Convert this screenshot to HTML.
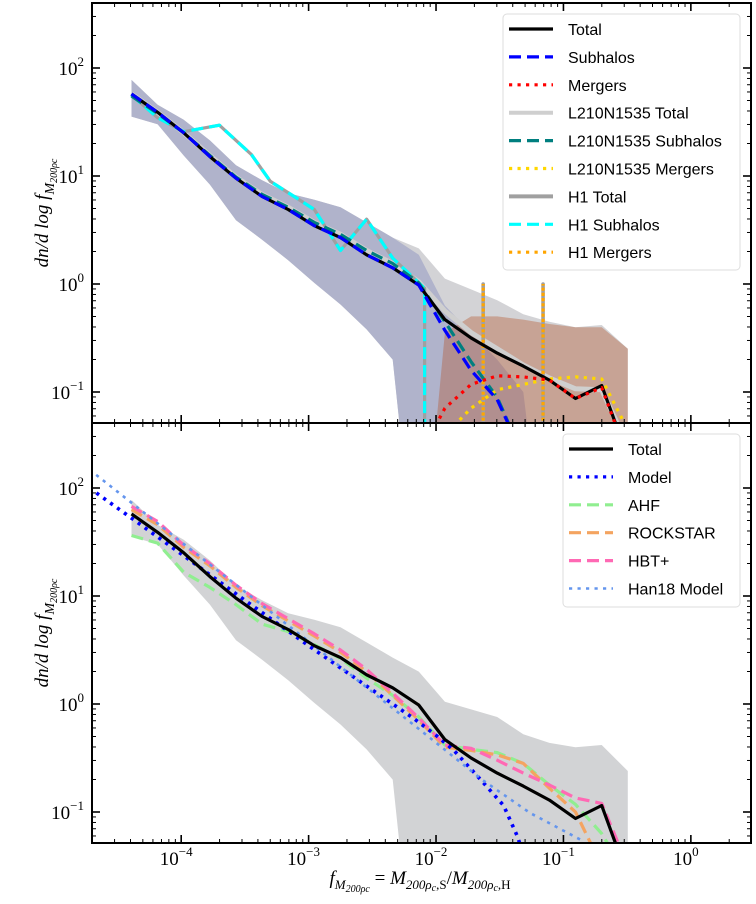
<!DOCTYPE html>
<html><head><meta charset="utf-8"><style>
html,body{margin:0;padding:0;background:#fff;width:756px;height:904px;overflow:hidden;}
svg{display:block;}
.tk{font-family:"Liberation Serif",serif;font-size:19px;fill:#000;}
.lg{font-family:"Liberation Sans",sans-serif;font-size:16px;fill:#000;}
</style></head><body>
<svg id="chart" width="756" height="904" viewBox="0 0 756 904" xmlns="http://www.w3.org/2000/svg">
<defs>
<clipPath id="clipTop"><rect x="92" y="3" width="659" height="420"/></clipPath>
<clipPath id="clipBot"><rect x="92" y="423" width="659" height="420"/></clipPath>
</defs>
<g id="topPanel"></g>
<g id="botPanel"></g>
<text class="tk" x="420" y="884" text-anchor="middle" font-style="italic" font-size="21">f<tspan font-size="13" dy="5">M</tspan><tspan font-size="10" dy="3">200ρc</tspan><tspan dy="-8" font-style="normal"> = </tspan>M<tspan font-size="13" dy="5">200ρ</tspan><tspan font-size="10" dy="2">c</tspan><tspan font-size="13" dy="-2" font-style="normal">,S</tspan><tspan dy="-5" font-style="normal">/</tspan>M<tspan font-size="13" dy="5">200ρ</tspan><tspan font-size="10" dy="2">c</tspan><tspan font-size="13" dy="-2" font-style="normal">,H</tspan></text>
<text class="tk" transform="translate(48,213) rotate(-90)" text-anchor="middle" font-style="italic" font-size="22">dn/d log f<tspan font-size="14" dy="6">M</tspan><tspan font-size="10" dy="3">200ρc</tspan></text>
<text class="tk" transform="translate(48,633) rotate(-90)" text-anchor="middle" font-style="italic" font-size="22">dn/d log f<tspan font-size="14" dy="6">M</tspan><tspan font-size="10" dy="3">200ρc</tspan></text>
</svg>
<script>
// ---- data (log10 values) ----
const binLogX = [-4.39,-4.185,-3.98,-3.775,-3.57,-3.365,-3.16,-2.955,-2.75,-2.545,-2.34,-2.135,-1.93,-1.725,-1.52,-1.315,-1.11,-0.905,-0.70,-0.495];
const totalY = [1.76,1.59,1.40,1.18,0.98,0.81,0.69,0.54,0.43,0.27,0.15,-0.01,-0.33,-0.50,-0.64,-0.76,-0.89,-1.06,-0.94,-1.6];
const subhalosY = [1.76,1.59,1.40,1.18,0.98,0.81,0.69,0.54,0.43,0.27,0.15,-0.01,-0.43,-0.80,-1.07,-1.6,-3,-3,-3,-3];
const mergersY = [-3,-3,-3,-3,-3,-3,-3,-3,-3,-3,-3,-1.6,-1.15,-0.93,-0.85,-0.86,-0.89,-1.06,-0.96,-1.6];
const l210TotalY = [1.76,1.59,1.40,1.19,0.99,0.83,0.71,0.57,0.46,0.31,0.19,0.02,-0.25,-0.45,-0.60,-0.75,-0.87,-0.97,-0.98,-1.5];
const l210SubY = [1.74,1.58,1.40,1.19,0.99,0.83,0.71,0.57,0.46,0.31,0.19,0.01,-0.35,-0.72,-1.05,-1.6,-3,-3,-3,-3];
const l210MergY = [-3,-3,-3,-3,-3,-3,-3,-3,-3,-3,-3,-3,-1.4,-1.15,-0.98,-0.93,-0.88,-0.86,-0.88,-1.35];
const h1SubX = [-4.39,-4.185,-3.98,-3.70,-3.45,-3.30,-3.10,-2.955,-2.75,-2.545,-2.34,-2.09,-2.09];
const h1SubY = [1.75,1.54,1.41,1.47,1.20,0.95,0.80,0.69,0.31,0.60,0.24,-0.04,-3];
const h1MergX = [-1.63,-1.16];
const h1MergY = [0.0,0.0];
const bandLowY = [1.55,1.48,1.19,0.92,0.59,0.41,0.22,0.01,-0.19,-0.42,-0.7,-3,-3,-3,-3,-3,-3,-3,-3,-3];
const bandHighY = [1.89,1.66,1.52,1.33,1.10,0.96,0.84,0.78,0.71,0.57,0.43,0.27,-0.2,-0.45,-0.7,-1.0,-3,-3,-3,-3];
const l210BandHighY = [1.89,1.66,1.52,1.33,1.10,0.96,0.84,0.78,0.71,0.57,0.43,0.33,0.05,-0.05,-0.15,-0.28,-0.35,-0.40,-0.38,-0.6];
const mergBandHighY = [-3,-3,-3,-3,-3,-3,-3,-3,-3,-3,-3,-3,-0.45,-0.30,-0.30,-0.33,-0.37,-0.40,-0.40,-0.6];
const botBandHighY = [1.89,1.66,1.52,1.33,1.10,0.96,0.84,0.78,0.71,0.57,0.43,0.30,0.02,-0.05,-0.12,-0.28,-0.36,-0.40,-0.38,-0.62];
const ahfY = [1.56,1.49,1.22,1.08,0.92,0.74,0.67,0.55,0.42,0.24,0.08,-0.12,-0.38,-0.42,-0.45,-0.55,-0.75,-0.93,-1.2,-1.6];
const rockstarY = [1.80,1.66,1.45,1.28,1.08,0.91,0.77,0.63,0.48,0.30,0.08,-0.15,-0.40,-0.43,-0.47,-0.55,-0.78,-1.0,-1.5,-2];
const hbtY = [1.83,1.69,1.47,1.30,1.10,0.93,0.79,0.65,0.50,0.32,0.10,-0.13,-0.38,-0.41,-0.52,-0.64,-0.75,-0.87,-0.92,-1.5];
const modelX = [-4.72,-4.4,-4.0,-3.5,-3.0,-2.5,-2.18,-2.0,-1.86,-1.65,-1.47,-1.36,-1.3];
const modelY = [2.0,1.73,1.39,0.96,0.54,0.13,-0.13,-0.29,-0.43,-0.70,-0.94,-1.23,-1.45];
const han18X = [-4.72,-4.0,-3.0,-2.03,-1.64,-1.26,-0.86,-0.80];
const han18Y = [2.17,1.5,0.58,-0.33,-0.70,-1.01,-1.26,-1.4];
const xTickExp = [-4,-3,-2,-1,0];
const yTickExp = [2,1,0,-1];

// ---- axes ----
const X0=92, X1=751, XL0=-4.70, XL1=0.472;
function sx(l){return X0+(l-XL0)/(XL1-XL0)*(X1-X0);}
function makeSy(top){const f=function(l){return top+65+(2-l)*108;}; f.ymax=top+423; return f;}
const NS='http://www.w3.org/2000/svg';
function el(tag,attrs,parent){const e=document.createElementNS(NS,tag);for(const k in attrs)e.setAttribute(k,attrs[k]);parent.appendChild(e);return e;}

// clip polyline against y<=ymax (geometric, keeps bboxes inside frame)
function linePath(xs,ys,sy){
  const ym=sy.ymax; const P=xs.map((x,i)=>[sx(x),sy(ys[i])]);
  let d='', pen=false;
  for(let i=0;i<P.length;i++){
    const [x,y]=P[i];
    if(y<=ym){
      if(!pen){
        if(i>0){const [px,py]=P[i-1];const t=(ym-py)/(y-py);d+='M'+(px+t*(x-px)).toFixed(1)+','+ym+' L'+x.toFixed(1)+','+y.toFixed(1)+' ';}
        else d+='M'+x.toFixed(1)+','+y.toFixed(1)+' ';
        pen=true;
      } else d+='L'+x.toFixed(1)+','+y.toFixed(1)+' ';
    } else if(pen){
      const [px,py]=P[i-1];const t=(ym-py)/(y-py);
      d+='L'+(px+t*(x-px)).toFixed(1)+','+ym+' ';pen=false;
    }
  }
  return d||'M0,0';
}
function bandPath(xs,lo,hi,sy){
  const ym=sy.ymax; const pts=[];
  xs.forEach((x,i)=>pts.push([sx(x),sy(hi[i])]));
  for(let i=xs.length-1;i>=0;i--)pts.push([sx(xs[i]),sy(lo[i])]);
  const out=[];
  for(let i=0;i<pts.length;i++){
    const a=pts[i], b=pts[(i+1)%pts.length];
    const ain=a[1]<=ym, bin=b[1]<=ym;
    if(ain)out.push(a);
    if(ain!==bin){const t=(ym-a[1])/(b[1]-a[1]);out.push([a[0]+t*(b[0]-a[0]),ym]);}
  }
  if(!out.length)return 'M0,0';
  return out.map((p,i)=>(i?'L':'M')+p[0].toFixed(1)+','+p[1].toFixed(1)).join(' ')+' Z';
}
const lowAll = binLogX.map(()=>-3);

function drawAxes(g,top,sy,showXLabels){
  const bot=top+420;
  for(let d=-5;d<=1;d++){
    for(let m=1;m<10;m++){
      const l=d+Math.log10(m);
      if(l<XL0||l>XL1)continue;
      const x=sx(l), len=m===1?8:4, w=m===1?1.6:1;
      let t=el('line',{x1:x,x2:x,y1:bot,y2:bot-len,stroke:'#000','stroke-width':w},g);
      
      
      t=el('line',{x1:x,x2:x,y1:top,y2:top+len,stroke:'#000','stroke-width':w},g);
      
      
    }
  }
  for(let d=-2;d<=3;d++){
    for(let m=1;m<10;m++){
      const l=d+Math.log10(m); const y=sy(l);
      if(y<top||y>bot)continue;
      const len=m===1?8:4, w=m===1?1.6:1;
      let t=el('line',{x1:X0,x2:X0+len,y1:y,y2:y,stroke:'#000','stroke-width':w},g);
      
      
      t=el('line',{x1:X1,x2:X1-len,y1:y,y2:y,stroke:'#000','stroke-width':w},g);
      
      
    }
  }
  yTickExp.forEach(e=>{
    const t=el('text',{class:'tk',x:84,y:sy(e)+7,'text-anchor':'end'},g);
    
    
    t.innerHTML='10<tspan font-size="13" dy="-9">'+(e<0?'−':'')+Math.abs(e)+'</tspan>';
  });
  if(showXLabels){
    xTickExp.forEach(e=>{
      const t=el('text',{class:'tk',x:sx(e)-5,y:bot+22,'text-anchor':'middle'},g);
      
      
      t.innerHTML='10<tspan font-size="13" dy="-9">'+(e<0?'−':'')+Math.abs(e)+'</tspan>';
    });
  }
  const f=el('rect',{x:X0,y:top,width:X1-X0,height:420,fill:'none',stroke:'#000','stroke-width':2},g);
  
  
}

function series(g,xs,ys,sy,style,name){
  const p=el('path',Object.assign({d:linePath(xs,ys,sy),fill:'none','stroke-linejoin':'round'},style),g);
  
  
  return p;
}
function band(g,xs,lo,hi,sy,fill,name){
  const p=el('path',{d:bandPath(xs,lo,hi,sy),fill:fill,stroke:'none'},g);
  
  
}

const S_total={stroke:'#000','stroke-width':3.2};
const dash=(c,w)=>({stroke:c,'stroke-width':w||3.2,'stroke-dasharray':'12,6'});
const dot=(c,w)=>({stroke:c,'stroke-width':w||3.2,'stroke-dasharray':'3.2,5.3'});

function legend(g,x,y,w,h,entries,lx,tx,y0){
  const r=el('rect',{x:x,y:y,width:w,height:h,rx:4,fill:'rgba(255,255,255,0.85)',stroke:'#ddd','stroke-width':1},g);
  
  
  entries.forEach((e,i)=>{
    const yy=y0+i*27.9;
    const ln=el('line',Object.assign({x1:lx,x2:lx+44,y1:yy,y2:yy},e[1]),g);
    
    
    const t=el('text',{class:'lg',x:tx,y:yy+6},g);
    t.textContent=e[0];
    
    
  });
}

// ---- top panel ----
(function(){
  const g=document.getElementById('topPanel'); const sy=makeSy(3);
  const c=el('g',{'clip-path':'url(#clipTop)'},g);
  band(c,binLogX,bandLowY,l210BandHighY,sy,'#d3d3d6','l210-total-band');
  band(c,binLogX,bandLowY,bandHighY,sy,'#b0b3cb','subhalo-band');
  band(c,binLogX,lowAll,mergBandHighY,sy,'rgba(180,85,45,0.38)','mergers-band');
  series(c,binLogX,l210TotalY,sy,{stroke:'#cfcfcf','stroke-width':5},'l210-total-line');
  series(c,h1SubX,h1SubY,sy,{stroke:'#a0a0a0','stroke-width':3.2},'h1-total-line');
  series(c,h1SubX,h1SubY,sy,dash('#00ffff'),'h1-subhalos-line');
  h1MergX.forEach((x,i)=>{
    const p=el('path',{d:'M'+sx(x)+','+sy.ymax+' L'+sx(x)+','+sy(h1MergY[i]),stroke:'#a0a0a0','stroke-width':3.6,'stroke-linecap':'round',fill:'none'},c);
    
    
    const q=el('path',{d:'M'+sx(x)+','+sy.ymax+' L'+sx(x)+','+sy(h1MergY[i]),stroke:'#ffa500','stroke-width':3.2,'stroke-dasharray':'3.2,2',fill:'none'},c);
    
    
  });
  series(c,binLogX,l210SubY,sy,dash('#007f7f'),'l210-subhalos-line');
  series(c,binLogX,l210MergY,sy,dot('#ffd700'),'l210-mergers-line');
  series(c,binLogX,totalY,sy,S_total,'total-line');
  series(c,binLogX,subhalosY,sy,dash('#0000ff'),'subhalos-line');
  series(c,binLogX,mergersY,sy,dot('#ff0000'),'mergers-line');
  drawAxes(g,3,sy,false);
  legend(g,503,14,237,256,[
    ['Total',S_total],['Subhalos',dash('#0000ff')],['Mergers',dot('#ff0000')],
    ['L210N1535 Total',{stroke:'#cfcfcf','stroke-width':4}],['L210N1535 Subhalos',dash('#007f7f')],['L210N1535 Mergers',dot('#ffd700')],
    ['H1 Total',{stroke:'#a0a0a0','stroke-width':4}],['H1 Subhalos',dash('#00ffff')],['H1 Mergers',dot('#ffa500')]
  ],509,568,29);
})();

// ---- bottom panel ----
(function(){
  const g=document.getElementById('botPanel'); const sy=makeSy(423);
  const c=el('g',{'clip-path':'url(#clipBot)'},g);
  band(c,binLogX,bandLowY,botBandHighY,sy,'#d2d3d5','scatter-band');
  series(c,binLogX,ahfY,sy,dash('#90ee90'),'ahf-line');
  series(c,binLogX,rockstarY,sy,dash('#f4a460'),'rockstar-line');
  series(c,binLogX,hbtY,sy,dash('#ff69b4'),'hbt-line');
  series(c,modelX,modelY,sy,dot('#0000ff',3.6),'model-line');
  series(c,han18X,han18Y,sy,dot('#6495ed',2.6),'han18-model-line');
  series(c,binLogX,totalY,sy,S_total,'total-line-bottom');
  drawAxes(g,423,sy,true);
  legend(g,563,434,177,173,[
    ['Total',S_total],['Model',dot('#0000ff')],['AHF',dash('#90ee90')],
    ['ROCKSTAR',dash('#f4a460')],['HBT+',dash('#ff69b4')],['Han18 Model',dot('#6495ed',2.6)]
  ],569,628,449);
})();
</script>
</body></html>
